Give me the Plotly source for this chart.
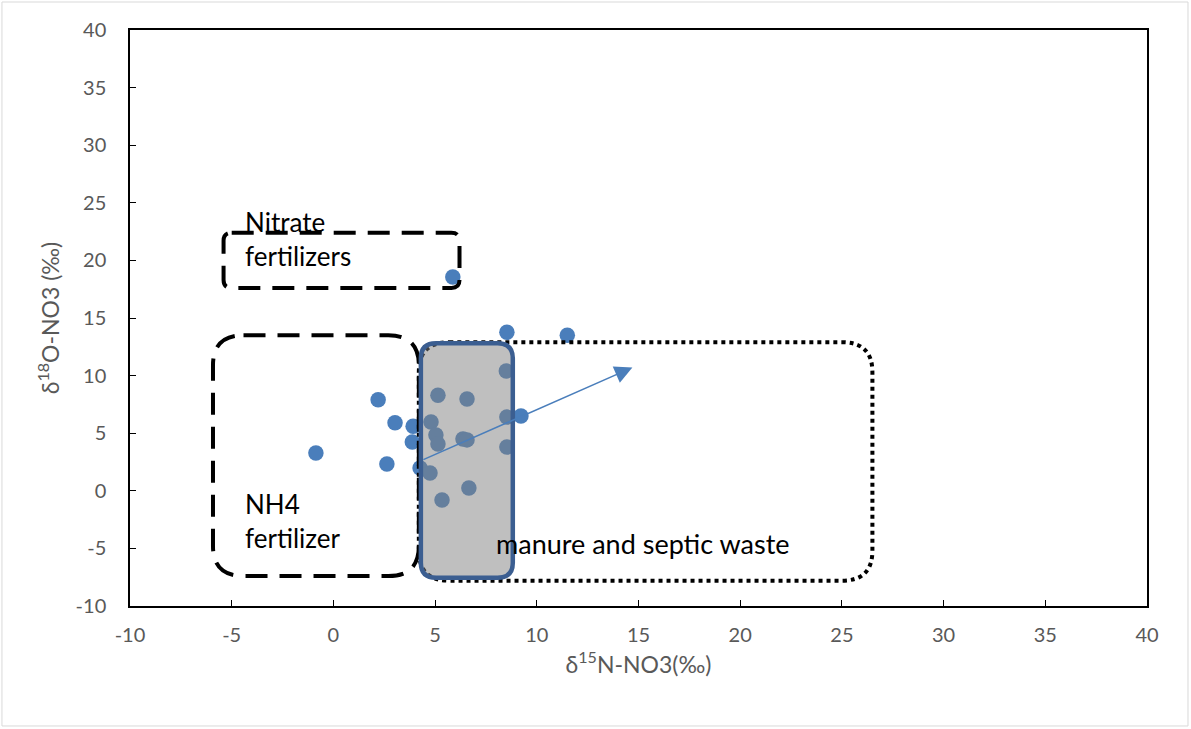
import plotly.graph_objects as go

# Data points (delta15N, delta18O)
d15N = [-0.86, 2.2, 2.63, 3.03, 3.92, 3.88, 4.26, 4.75, 4.8, 5.04, 5.14, 5.14, 5.34,
        5.87, 6.37, 6.57, 6.57, 6.66, 8.53, 8.5, 8.53, 8.53, 9.22, 11.5]
d18O = [3.28, 7.9, 2.33, 5.9, 5.6, 4.24, 1.98, 1.55, 5.97, 4.84, 4.06, 8.3, -0.8,
        18.55, 4.5, 4.42, 7.97, 0.25, 13.76, 10.4, 6.4, 3.8, 6.5, 13.5]

# Trend arrow (tail -> tip)
arrow_tail = [4.35, 2.65]
arrow_tip = [14.7, 10.7]

# Source boxes: [x0, x1, y0, y1]
nitrate_box = [-5.4, 6.2, 17.6, 22.4]
nh4_box = [-5.92, 4.2, -7.4, 13.5]
manure_box = [4.2, 26.5, -7.8, 12.9]
gray_box = [4.3, 8.82, -7.55, 12.8]

x_range = [-10, 40]
y_range = [-10, 40]
tick_vals = [-10, -5, 0, 5, 10, 15, 20, 25, 30, 35, 40]
tick_text = ["-10", "-5", "0", "5", "10", "15", "20", "25", "30", "35", "40"]


def rounded(box, rx, ry):
    x0, x1, y0, y1 = box
    return (f"M {x0+rx},{y1} L {x1-rx},{y1} Q {x1},{y1} {x1},{y1-ry} "
            f"L {x1},{y0+ry} Q {x1},{y0} {x1-rx},{y0} L {x0+rx},{y0} "
            f"Q {x0},{y0} {x0},{y0+ry} L {x0},{y1-ry} Q {x0},{y1} {x0+rx},{y1} Z")


fig = go.Figure()
fig.add_trace(go.Scatter(
    x=d15N, y=d18O, mode="markers",
    marker=dict(size=15.5, color="#4A7EBB"),
    showlegend=False, hoverinfo="x+y"))

shapes = [
    dict(type="path", path=rounded(nitrate_box, 0.4, 0.7), xref="x", yref="y",
         line=dict(color="black", width=4, dash="22px,12px"), layer="above"),
    dict(type="path", path=rounded(nh4_box, 1.5, 2.6), xref="x", yref="y",
         line=dict(color="black", width=4, dash="22px,12px"), layer="above"),
    dict(type="path", path=rounded(manure_box, 1.5, 2.6), xref="x", yref="y",
         line=dict(color="black", width=4, dash="4px,4px"), layer="above"),
    dict(type="path", path=rounded(gray_box, 0.75, 1.3), xref="x", yref="y",
         fillcolor="rgba(128,128,128,0.5)",
         line=dict(color="#3B5E91", width=4.5), layer="above"),
    # outer chart border
    dict(type="rect", xref="paper", yref="paper", x0=-0.1259, x1=1.0403, y0=-0.2083, y1=1.0486,
         line=dict(color="#D9D9D9", width=1), layer="below"),
]

font_txt = "Lato, Calibri, sans-serif"
annotations = [
    dict(x=arrow_tip[0], y=arrow_tip[1], ax=arrow_tail[0], ay=arrow_tail[1],
         xref="x", yref="y", axref="x", ayref="y", showarrow=True, text="",
         arrowhead=2, arrowsize=2.2, arrowwidth=1.6, arrowcolor="#4A7EBB"),
    dict(x=-4.45, y=21.85, xref="x", yref="y", text="Nitrate<br>fertilizers",
         showarrow=False, xanchor="left", yanchor="middle", align="left",
         font=dict(family=font_txt, size=26, color="black")),
    dict(x=-4.45, y=-2.6, xref="x", yref="y", text="NH4<br>fertilizer",
         showarrow=False, xanchor="left", yanchor="middle", align="left",
         font=dict(family=font_txt, size=26, color="black")),
    dict(x=7.9, y=-4.6, xref="x", yref="y", text="manure and septic waste",
         showarrow=False, xanchor="left", yanchor="middle", align="left",
         font=dict(family=font_txt, size=27, color="black")),
]

axis_common = dict(
    showline=True, linecolor="black", linewidth=1.5, mirror=True,
    ticks="inside", ticklen=6, tickcolor="black", tickwidth=1.2,
    showgrid=False, zeroline=False, automargin=False,
    tickfont=dict(family=font_txt, size=20, color="#595959"),
    tickvals=tick_vals, ticktext=tick_text,
)

fig.update_layout(
    width=1191, height=729,
    margin=dict(l=130, r=44, t=30, b=123),
    paper_bgcolor="white", plot_bgcolor="white",
    xaxis=dict(range=x_range, title=dict(text="δ<sup>15</sup>N-NO3(‰)", standoff=12,
               font=dict(family=font_txt, size=23, color="#595959")),
               ticklabelstandoff=10, **axis_common),
    yaxis=dict(range=y_range, title=dict(text="δ<sup>18</sup>O-NO3 (‰)", standoff=10,
               font=dict(family=font_txt, size=23, color="#595959")),
               ticklabelstandoff=18, **axis_common),
    shapes=shapes, annotations=annotations,
)

fig.write_html("out.html", config={"displayModeBar": False},
               post_script="document.body.style.margin='0';")
